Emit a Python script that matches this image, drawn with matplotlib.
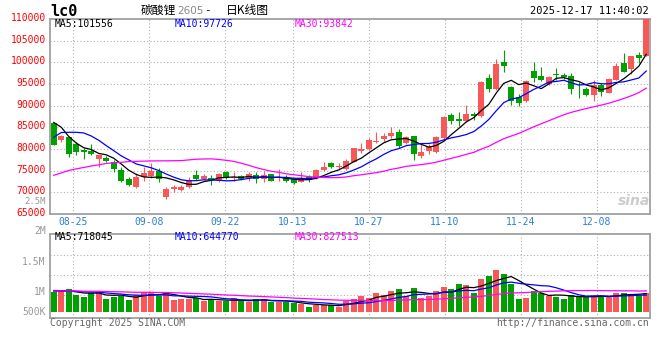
import numpy as np
import matplotlib
matplotlib.use("Agg")
import matplotlib.pyplot as plt
from matplotlib.transforms import ScaledTranslation

plt.rcParams['font.family'] = ['DejaVu Sans Mono', 'Noto Sans CJK SC']

W, H = 660, 360

# ---- data (LC0 daily, 2025-08-20 .. 2025-12-17) ----
date_idx = [3, 13, 23, 32, 42, 52, 62, 72]
date_labels = ["08-25", "09-08", "09-22", "10-13", "10-27", "11-10", "11-24", "12-08"]

opens = [86000, 82080, 82700, 81150, 79770, 79610, 77690, 78000, 77080, 75150,
         73080, 71300, 73460, 73770, 74920, 68990, 70840, 70540, 71300, 74000,
         73080, 73380, 72690, 74770, 73380, 73770, 73230, 74000, 73080, 74150,
         73380, 73230, 73000, 72460, 73460, 73230, 75150, 76850, 75770, 75400,
         77070, 79610, 80000, 81550, 82310, 83070, 84000, 81310, 83070, 78460,
         79540, 79380, 82470, 87850, 86930, 86460, 88010, 87620, 96320, 93780,
         100150, 94240, 91930, 91150, 98000, 96850, 95000, 97310, 97080, 96850,
         94150, 93780, 92460, 94770, 93000, 95930, 99920, 98400, 101700, 101470]
highs = [86070, 83230, 82780, 81690, 80160, 81150, 78780, 78460, 77460, 75920,
         73610, 74530, 75920, 76700, 75530, 71300, 71690, 71690, 73460, 75150,
         74150, 74000, 74380, 74920, 74690, 74000, 74770, 74770, 74920, 74150,
         75380, 74000, 73230, 74610, 74000, 75380, 76930, 77070, 76700, 77600,
         80300, 81310, 82470, 83860, 83620, 85150, 84620, 83000, 83070, 81310,
         81090, 82920, 87690, 88390, 88480, 90160, 88620, 95700, 97310, 100770,
         102850, 94540, 92630, 95930, 100150, 99000, 96850, 98630, 97620, 97470,
         95540, 94240, 95850, 95170, 96320, 99920, 102090, 101470, 102460, 109940]
lows = [80920, 81690, 78230, 78620, 77760, 78620, 75780, 77070, 74760, 72460,
        71460, 71070, 72690, 73240, 72460, 68460, 70150, 70380, 71000, 72850,
        72850, 71690, 72460, 73080, 72690, 72850, 72690, 72230, 72460, 72690,
        72690, 72460, 71920, 72310, 72460, 73080, 74920, 75540, 75150, 75150,
        76930, 79000, 79770, 81310, 81690, 82470, 80300, 81090, 77460, 77990,
        78780, 79010, 82310, 85770, 85380, 86160, 86700, 87500, 93090, 93620,
        97840, 90160, 89930, 90920, 95540, 95770, 94770, 95930, 96230, 92700,
        91700, 92230, 91150, 92230, 93000, 95930, 97840, 97310, 99920, 101470]
closes = [80930, 83000, 78850, 79380, 79310, 78850, 78530, 77230, 75390, 72690,
          71690, 73610, 74380, 74920, 73000, 70770, 71300, 71300, 72850, 73080,
          73770, 72850, 74150, 73380, 73610, 73080, 74150, 73080, 74000, 72690,
          73610, 72690, 72230, 73230, 72850, 75150, 75920, 75920, 76080, 77300,
          80160, 79930, 82080, 81850, 83070, 83760, 80760, 82690, 78780, 79380,
          80530, 82690, 87460, 86530, 86460, 88080, 87620, 95540, 93780, 99550,
          99230, 91150, 90550, 95700, 96320, 95930, 96550, 97080, 96550, 93780,
          94000, 92460, 94770, 93230, 96090, 99160, 97840, 101470, 100930, 109900]
volumes = [792000, 770000, 900000, 660000, 580000, 740000, 820000, 500000, 600000, 620000,
           480000, 660000, 790000, 790000, 620000, 740000, 460000, 490000, 490000, 550000,
           410000, 500000, 410000, 410000, 530000, 410000, 390000, 500000, 500000, 370000,
           370000, 370000, 330000, 290000, 190000, 260000, 260000, 260000, 190000, 420000,
           500000, 620000, 530000, 750000, 660000, 820000, 900000, 620000, 940000, 540000,
           620000, 820000, 980000, 900000, 1090000, 1060000, 740000, 1300000, 1420000, 1660000,
           1500000, 1110000, 500000, 540000, 820000, 730000, 620000, 590000, 500000, 660000,
           620000, 570000, 620000, 570000, 620000, 750000, 750000, 700000, 620000, 750000]

# sessions before the visible window, estimated from where the MA lines start
prior_closes = [66800, 61500, 68500, 69400, 69000, 70300, 67500, 71000, 69500, 66500,
                72000, 73000, 73500, 72500, 70500, 70500, 70500, 68000, 68500, 72000,
                72000, 78350, 79380, 80800, 85850, 88500, 89500, 87000, 84700]
prior_volumes = [760000, 820000, 700000, 850000, 900000, 780000, 740000, 810000, 760000, 830000,
                 870000, 800000, 850000, 790000, 760000, 800000, 820000, 850000, 880000, 790000,
                 820000, 880000, 900000, 820000, 880000, 850000, 800000, 860000, 800000]


def moving_avg(prior, vals, n):
    full = np.array(prior + vals, dtype=float)
    k = len(prior)
    return np.array([full[k + i - n + 1:k + i + 1].mean() for i in range(len(vals))])


O, Hh, L, C = map(np.array, (opens, highs, lows, closes))
x = np.arange(len(closes))
RED, GREEN = "#f85858", "#00a000"
cols = [RED if c >= o else GREEN for o, c in zip(O, C)]

ma5 = moving_avg(prior_closes, closes, 5)
ma10 = moving_avg(prior_closes, closes, 10)
ma30 = moving_avg(prior_closes, closes, 30)
vma5 = moving_avg(prior_volumes, volumes, 5)
vma10 = moving_avg(prior_volumes, volumes, 10)
vma30 = moving_avg(prior_volumes, volumes, 30)

# vertical grid positions (sina spaces them over 79 slots)
grid_x = [i * 80 / 79 - 0.5 for i in date_idx]

fig = plt.figure(figsize=(6.6, 3.6), dpi=100)
fx = lambda px: px / W
fy = lambda py: 1 - py / H

ax = fig.add_axes([fx(50), fy(214), 600 / W, 195 / H])
axv = fig.add_axes([fx(50), fy(318), 600 / W, 84 / H])

GRID = dict(color="#b0b0b0", lw=0.8, ls=(0, (1, 2)), zorder=0)
for a in (ax, axv):
    for s in a.spines.values():
        s.set_color("#a0a0a0")
        s.set_linewidth(1.3)
    a.set_xlim(-0.5, len(closes) - 0.5)
    for gx in grid_x:
        a.axvline(gx, **GRID)

# ---- price panel ----
for yv in range(70000, 110000, 5000):
    ax.axhline(yv, **GRID)
ax.vlines(x, L, Hh, colors=cols, lw=0.8, zorder=2)
body_bottom = np.minimum(O, C)
body_h = np.maximum(np.abs(C - O), 180)
ax.bar(x, body_h, bottom=body_bottom, width=0.76, color=cols, linewidth=0, zorder=3)
ax.plot(x, ma5, color="black", lw=0.9, zorder=4)
ax.plot(x, ma10, color="#0000ff", lw=0.9, zorder=4)
ax.plot(x, ma30, color="#ff00ff", lw=0.9, zorder=4)
ax.set_ylim(65000, 110000)
ax.set_yticks(range(65000, 110001, 5000))
ax.set_yticklabels([str(v) for v in range(65000, 110001, 5000)], color="red", fontsize=7)
ax.set_xticks(grid_x)
ax.set_xticklabels(date_labels, color="#2a7fd4", fontsize=7)
ax.tick_params(axis="both", length=0)
ax.tick_params(axis="y", pad=3)
ax.tick_params(axis="x", pad=2)
# price labels sit a little above their grid lines
lift = ScaledTranslation(0, 2 / 100, fig.dpi_scale_trans)
for lbl in ax.get_yticklabels():
    lbl.set_transform(lbl.get_transform() + lift)

# ---- volume panel ----
axv.bar(x, volumes, width=0.76, color=cols, linewidth=0, zorder=3)
axv.plot(x, vma5, color="black", lw=0.9, zorder=4)
axv.plot(x, vma10, color="#0000ff", lw=0.9, zorder=4)
axv.plot(x, vma30, color="#ff00ff", lw=0.9, zorder=4)
axv.set_ylim(-260000, 3100000)
for yv in (2260000, 1460000, 660000):
    axv.axhline(yv, **GRID)
axv.set_yticks([2032000, 832000, 32000])
axv.set_yticklabels(["1.5M", "1M", "500K"], color="#999999", fontsize=7)
axv.set_xticks([])
axv.tick_params(axis="y", length=0, pad=3)

# ---- texts ----
fig.text(fx(46), fy(231), "2M", ha="right", va="center", color="#999999", fontsize=7)
fig.text(fx(46), fy(201), "2.5M", ha="right", va="center", color="#999999", fontsize=6.5)

fig.text(fx(50), fy(11), "lc0", fontsize=11, fontweight="bold", va="center")
cjk = ["Noto Sans CJK SC", "DejaVu Sans"]
fig.text(fx(141), fy(10.5), "碳酸锂", family=cjk, fontsize=8.5, va="center")
fig.text(fx(177), fy(11), "2605", family="DejaVu Sans", color="#888888", fontsize=7.5, va="center")
fig.text(fx(204), fy(10.5), "-", fontsize=8, va="center")
fig.text(fx(226), fy(10.5), "日K线图", family=cjk, fontsize=8.5, va="center")
fig.text(fx(649), fy(11.5), "2025-12-17 11:40:02", ha="right", va="center", fontsize=7.5)

fig.text(fx(55), fy(23.7), "MA5:101556", color="black", fontsize=7, va="center")
fig.text(fx(175), fy(23.7), "MA10:97726", color="#0000ff", fontsize=7, va="center")
fig.text(fx(295), fy(23.7), "MA30:93842", color="#ff00ff", fontsize=7, va="center")

fig.text(fx(55), fy(237.5), "MA5:718045", color="black", fontsize=7, va="center")
fig.text(fx(175), fy(237.5), "MA10:644770", color="#0000ff", fontsize=7, va="center")
fig.text(fx(295), fy(237.5), "MA30:827513", color="#ff00ff", fontsize=7, va="center")

fig.text(fx(50), fy(323), "Copyright 2025 SINA.COM", color="#666666", fontsize=7, va="center")
fig.text(fx(649), fy(323), "http://finance.sina.com.cn", color="#666666", fontsize=7,
         ha="right", va="center")

fig.text(fx(634), fy(201), "sina", family="DejaVu Sans", color="#cccccc", fontsize=10,
         fontweight="bold", style="italic", ha="center", va="center")

fig.savefig("out.png", dpi=100)
